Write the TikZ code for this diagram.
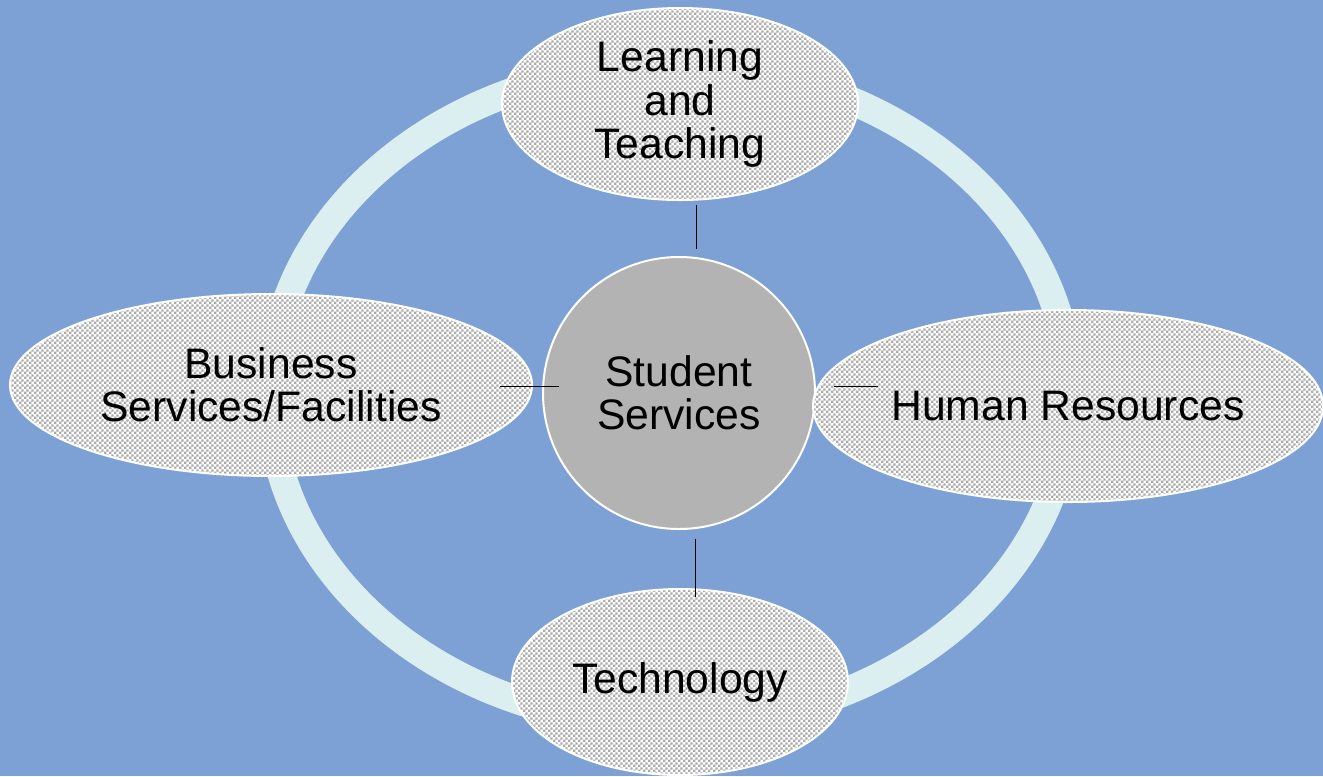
\documentclass[tikz,border=0pt]{standalone}
\usepackage{fontspec}
\setmainfont{Liberation Sans}
\usetikzlibrary{shapes.geometric,patterns}
\definecolor{bgblue}{RGB}{126,161,213}
\definecolor{ringcyan}{RGB}{219,238,240}
\definecolor{hubgray}{RGB}{179,179,179}
\definecolor{checkgray}{RGB}{170,170,170}
\pgfdeclarepatternformonly{smallchecker}{\pgfpointorigin}{\pgfqpoint{3.6pt}{3.6pt}}{\pgfqpoint{3.6pt}{3.6pt}}{%
  \pgfpathrectangle{\pgfpointorigin}{\pgfqpoint{1.8pt}{1.8pt}}%
  \pgfpathrectangle{\pgfqpoint{1.8pt}{1.8pt}}{\pgfqpoint{1.8pt}{1.8pt}}%
  \pgfusepath{fill}}

\begin{document}
\begin{tikzpicture}[x=0.75pt, y=-0.75pt,
    area/.style={ellipse, draw=white, line width=1.5pt, inner sep=0pt, outer sep=0pt,
      preaction={fill=white}, pattern=smallchecker, pattern color=checkgray,
      align=center, font=\fontsize{32}{32.5}\selectfont},
    hub/.style={circle, draw=white, line width=1.5pt, fill=hubgray, inner sep=0pt,
      minimum size=204pt, align=center, font=\fontsize{32}{32.5}\selectfont},
    link/.style={black, line width=0.75pt}]
      \useasboundingbox (0, 0) rectangle (1323, 776);
      \clip (0, 0) rectangle (1323, 776);
      \fill[bgblue] (0, 0) rectangle (1323, 776);
      \draw[ringcyan, line width=21pt] (670, 395) ellipse [x radius=400, y radius=330];
      \node[hub] (ss) at (679, 393) {Student\\Services};
      \node[area, minimum width=267pt, minimum height=144pt] (lt) at (680, 104) {Learning\\and\\Teaching};
      \node[area, minimum width=391.5pt, minimum height=136.5pt] (bs) at (271, 385) {Business\\Services/Facilities};
      \node[area, minimum width=382.5pt, minimum height=144pt] (hr) at (1068, 406) {Human Resources};
      \node[area, minimum width=252pt, minimum height=139.5pt] (tech) at (680, 682) {Technology};
      \draw[link, shorten <=3.75pt, shorten >=5pt] ([xshift=12pt]lt.south) -- ([xshift=12pt]lt.south |- ss.north);
      \draw[link, shorten <=6.75pt, shorten >=-6pt] ([xshift=12pt]ss.south) -- ([xshift=12pt]ss.south |- tech.north);
      \draw[link, shorten <=-24pt, shorten >=-12.75pt] ([yshift=-0.75pt]bs.east) -- ([yshift=-0.75pt]bs.east -| ss.west);
      \draw[link] ([xshift=13.5pt, yshift=5.25pt]ss.east) -- ([xshift=46.5pt, yshift=5.25pt]ss.east);
    \end{tikzpicture}
\end{document}
